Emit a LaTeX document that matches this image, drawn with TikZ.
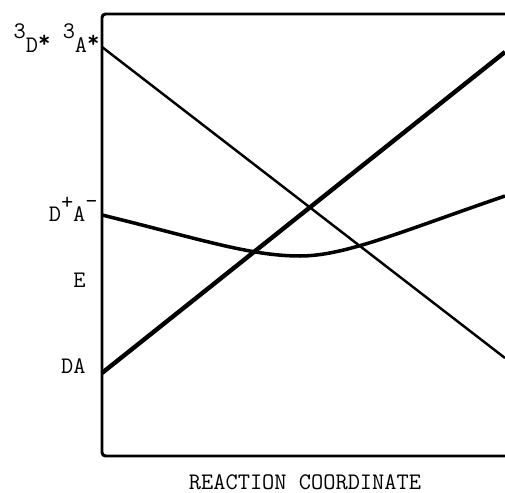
\documentclass[tikz,border=0pt]{standalone}
\usepackage{tikz}
\tikzset{
  ax/.style={line width=1.7pt,rounded corners=2pt},
  thn/.style={line width=1.4pt},
  thk/.style={line width=2.5pt},
  crv/.style={line width=2pt},
  lab/.style={inner sep=0pt,font=\ttfamily\fontsize{13.5}{16}\selectfont}
}
\newcommand{\hi}[1]{\raisebox{8.5pt}{#1}}
\newcommand{\st}{\raisebox{3pt}{\bfseries *}}

\begin{document}
\begin{tikzpicture}[x=0.02cm,y=-0.02cm]
\useasboundingbox (0,0) rectangle (505,493);
% frame, open on the right
\draw[ax] (505,14) -- (102,14) -- (102,456) -- (505,456);
% end points of the levels
\coordinate (tA) at (102,47);
\coordinate (tB) at (505,358);
\coordinate (dA) at (102,373);
\coordinate (dB) at (505,52);
\coordinate (cA) at (102,215);
\coordinate (cM) at (300,256);
\coordinate (cB) at (505,196);
\draw[thn] (tA) -- (tB);
\draw[thk] (dA) -- (dB);
\draw[crv] (cA) .. controls (200,239) and (250,256) .. (cM)
  .. controls (345,256) and (400,232) .. (cB);
% labels
\node[lab,anchor=base east] (lT) at (100,53) {\hi{3}D\st{} \hi{3}A\st};
\node[lab,anchor=base east] (lC) at (98,222) {D\raisebox{7pt}{+}A\raisebox{7.5pt}{-}};
\node[lab,anchor=base east] (lE) at (86,288) {E};
\node[lab,anchor=base east] (lD) at (86,374) {DA};
\node[lab,anchor=base] (lX) at (305,490) {REACTION COORDINATE};
\end{tikzpicture}
\end{document}
